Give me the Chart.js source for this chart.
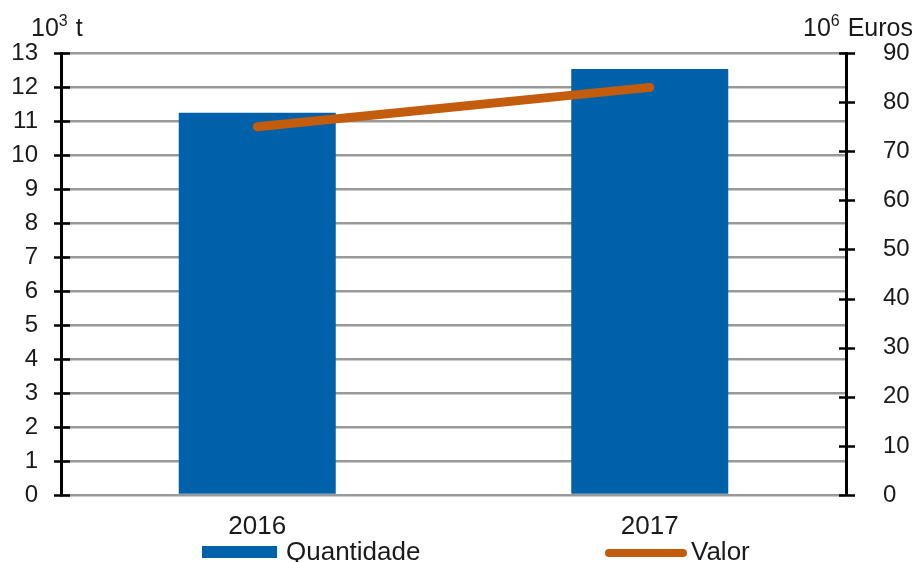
<!DOCTYPE html>
<html>
<head>
<meta charset="utf-8">
<script src="https://cdn.jsdelivr.net/npm/chart.js@4.4.1/dist/chart.umd.min.js"></script>
<style>
html,body{margin:0;padding:0;background:#fff;}
#wrap{position:relative;width:917px;height:562px;}
</style>
</head>
<body>
<div id="wrap"><canvas id="c" width="917" height="562"></canvas></div>
<script>
const categories = ['2016', '2017'];
const quantidade = [11.24, 12.53];
const valor = [75, 83];
const leftTicks = {min: 0, max: 13, step: 1};
const rightTicks = {min: 0, max: 90, step: 10};
const leftTitle = {base: '10', sup: '3', rest: ' t'};
const rightTitle = {base: '10', sup: '6', rest: ' Euros'};
const legendLabels = ['Quantidade', 'Valor'];

const FONT = '"Liberation Sans", Arial, sans-serif';
const BAR_COLOR = '#0061AB';
const LINE_COLOR = '#C35C0C';
const TEXT_COLOR = '#1a1a1a';

const extras = {
  id: 'extras',
  afterDraw(chart) {
    const ctx = chart.ctx;
    const ca = chart.chartArea;
    ctx.save();
    // crossing tick marks
    ctx.strokeStyle = '#000';
    ctx.lineWidth = 2.5;
    ['y', 'y1'].forEach(id => {
      const s = chart.scales[id];
      const ax = id === 'y' ? ca.left : ca.right;
      s.ticks.forEach(t => {
        const py = Math.round(s.getPixelForValue(t.value)) + 0.5;
        ctx.beginPath();
        ctx.moveTo(ax - 7, py);
        ctx.lineTo(ax + 9, py);
        ctx.stroke();
      });
    });
    // axis titles
    ctx.fillStyle = TEXT_COLOR;
    ctx.textBaseline = 'alphabetic';
    function drawTitle(t, x, y, align) {
      const big = '25px ' + FONT, small = '16px ' + FONT;
      ctx.font = big; const w1 = ctx.measureText(t.base).width;
      const w3 = ctx.measureText(t.rest).width;
      ctx.font = small; const w2 = ctx.measureText(t.sup).width + 1;
      let sx = align === 'right' ? x - (w1 + w2 + w3) : x;
      ctx.textAlign = 'left';
      ctx.font = big; ctx.fillText(t.base, sx, y);
      ctx.font = small; ctx.fillText(t.sup, sx + w1, y - 10);
      ctx.font = big; ctx.fillText(t.rest, sx + w1 + w2, y);
    }
    drawTitle(leftTitle, 31, 36, 'left');
    drawTitle(rightTitle, 913, 36, 'right');
    // legend
    const ly = 552;
    ctx.fillStyle = BAR_COLOR;
    ctx.fillRect(202, ly - 6, 75, 12);
    ctx.strokeStyle = LINE_COLOR;
    ctx.lineWidth = 8;
    ctx.lineCap = 'round';
    ctx.beginPath();
    ctx.moveTo(609, ly + 1);
    ctx.lineTo(683, ly + 1);
    ctx.stroke();
    ctx.fillStyle = TEXT_COLOR;
    ctx.font = '26px ' + FONT;
    ctx.textBaseline = 'middle';
    ctx.textAlign = 'left';
    ctx.fillText(legendLabels[0], 286, ly + 1);
    ctx.fillText(legendLabels[1], 691, ly + 1);
    ctx.restore();
  }
};

new Chart(document.getElementById('c'), {
  data: {
    labels: categories,
    datasets: [
      {
        type: 'line',
        label: legendLabels[1],
        data: valor,
        yAxisID: 'y1',
        borderColor: LINE_COLOR,
        backgroundColor: LINE_COLOR,
        borderWidth: 9,
        borderCapStyle: 'round',
        pointRadius: 0,
        pointHoverRadius: 0,
        tension: 0,
        order: 0
      },
      {
        type: 'bar',
        label: legendLabels[0],
        data: quantidade,
        yAxisID: 'y',
        backgroundColor: BAR_COLOR,
        borderWidth: 0,
        barPercentage: 1,
        categoryPercentage: 0.4,
        order: 1
      }
    ]
  },
  options: {
    responsive: false,
    animation: false,
    events: [],
    layout: {padding: {top: 53, left: 0, right: 0, bottom: 0}},
    plugins: {legend: {display: false}, tooltip: {enabled: false}, title: {display: false}},
    scales: {
      x: {
        type: 'category',
        grid: {display: false, drawTicks: false},
        border: {display: false},
        ticks: {color: TEXT_COLOR, font: {family: FONT, size: 26}, padding: 16},
        afterFit(s) { s.height = 67; }
      },
      y: {
        position: 'left',
        min: leftTicks.min, max: leftTicks.max,
        ticks: {stepSize: leftTicks.step, color: TEXT_COLOR, font: {family: FONT, size: 24}, padding: 23},
        grid: {color: '#999999', lineWidth: 2.5, drawTicks: false, tickLength: 0},
        border: {display: true, color: '#000', width: 3},
        afterFit(s) { s.width = 61; }
      },
      y1: {
        position: 'right',
        min: rightTicks.min, max: rightTicks.max,
        ticks: {stepSize: rightTicks.step, color: TEXT_COLOR, font: {family: FONT, size: 24}, padding: 37},
        grid: {display: false, drawTicks: false, tickLength: 0},
        border: {display: true, color: '#000', width: 3},
        afterFit(s) { s.width = 71; }
      }
    }
  },
  plugins: [extras]
});
</script>
</body>
</html>
